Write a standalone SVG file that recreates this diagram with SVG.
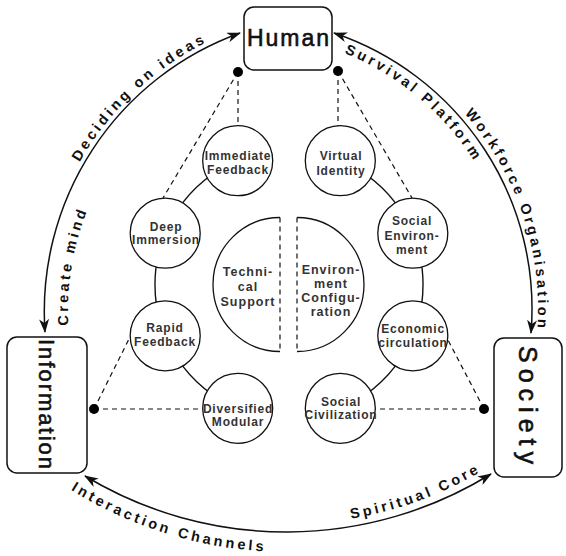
<svg xmlns="http://www.w3.org/2000/svg" width="566" height="556" viewBox="0 0 566 556">
<style>
.box{fill:#fff;stroke:#111;stroke-width:1.5}
.big{font-family:"Liberation Sans",Arial,sans-serif;fill:#111;stroke:#111;stroke-width:0.6;text-anchor:middle}
.ring{fill:none;stroke:#111;stroke-width:1.4}
.node{fill:#fff;stroke:#111;stroke-width:1.3}
.lbl{font-family:"Liberation Sans",Arial,sans-serif;font-weight:bold;font-size:12px;letter-spacing:0.8px;fill:#333;text-anchor:middle}
.clbl{font-family:"Liberation Sans",Arial,sans-serif;font-weight:bold;font-size:12.5px;letter-spacing:1px;fill:#333;text-anchor:middle}
.dash{fill:none;stroke:#111;stroke-width:1.2;stroke-dasharray:5 4}
.arc{fill:none;stroke:#111;stroke-width:1.5;marker-start:url(#ah);marker-end:url(#ah)}
.al{font-family:"Liberation Sans",Arial,sans-serif;font-weight:bold;font-size:14.5px;letter-spacing:3.2px;fill:#111}
.dot{fill:#000}
</style>
<defs>
<marker id="ah" viewBox="0 0 14 10" refX="13" refY="5" markerWidth="14" markerHeight="10" markerUnits="userSpaceOnUse" orient="auto-start-reverse">
<path d="M0,0 L14,5 L0,10 L4,5 z" fill="#111"/>
</marker>
<path id="tp-deciding" d="M40,311 A300,300 0 0,1 358.8,11.6"/>
<path id="tp-create" d="M104.4,447 A272,272 0 0,1 161.6,105.7"/>
<path id="tp-survival" d="M265.1,34 A276,276 0 0,1 507.6,237.6"/>
<path id="tp-workforce" d="M332.8,26.5 A297,297 0 0,1 484.3,479.4"/>
<path id="tp-interaction" d="M-1.9,431.9 A410,410 0 0,0 359.2,545.8"/>
<path id="tp-spiritual" d="M288,524 A382,382 0 0,0 533.5,434.6"/>
</defs>
<rect width="566" height="556" fill="#fff"/>

<g id="connectors">
<path class="arc" d="M45,332 A296,296 0 0,1 240,33"/>
<path class="arc" d="M334,33 A291,291 0 0,1 531,333"/>
<path class="arc" d="M85,476 A390,390 0 0,0 491,474"/>
<path class="ring" d="M237.7,160.7 A134,134 0 0,0 237.7,408.3"/>
<path class="ring" d="M340.3,160.7 A134,134 0 0,1 340.3,408.3"/>
<path class="dash" d="M238,72 V126 M238,72 L163,198 M338,71 V126 M338,71 L412,198 M94,409 H203 M94,409 L130,337 M484,409 H375 M484,409 L448,340"/>
<circle class="dot" cx="238" cy="72" r="5"/>
<circle class="dot" cx="338" cy="71" r="5"/>
<circle class="dot" cx="94" cy="409" r="5"/>
<circle class="dot" cx="484" cy="409" r="5"/>
<text class="al"><textPath href="#tp-deciding" startOffset="50%" text-anchor="middle">Deciding on ideas</textPath></text>
<text class="al"><textPath href="#tp-create" startOffset="50%" text-anchor="middle">Create mind</textPath></text>
<text class="al"><textPath href="#tp-survival" startOffset="50%" text-anchor="middle">Survival Platform</textPath></text>
<text class="al"><textPath href="#tp-workforce" startOffset="50%" text-anchor="middle">Workforce Organisation</textPath></text>
<text class="al"><textPath href="#tp-interaction" startOffset="50%" text-anchor="middle">Interaction Channels</textPath></text>
<text class="al"><textPath href="#tp-spiritual" startOffset="50%" text-anchor="middle">Spiritual Core</textPath></text>
</g>

<g id="human">
<rect class="box" x="244" y="7" width="88" height="63" rx="10"/>
<text class="big" x="289" y="46" font-size="23" letter-spacing="2">Human</text>
</g>
<g id="information">
<rect class="box" x="7" y="337" width="80" height="136" rx="10"/>
<text class="big" transform="translate(39,405) rotate(90)" font-size="22" letter-spacing="2">Information</text>
</g>
<g id="society">
<rect class="box" x="494" y="338" width="68" height="139" rx="10"/>
<text class="big" transform="translate(519,408) rotate(90)" font-size="25" letter-spacing="6">Society</text>
</g>

<g id="technical-support">
<path class="node" d="M280,217.5 A67,67 0 0,0 280,351.5"/>
<path class="dash" d="M280,217.5 V351.5"/>
<text class="clbl" x="248" y="276">Techni-</text>
<text class="clbl" x="248" y="291">cal</text>
<text class="clbl" x="248" y="306">Support</text>
</g>
<g id="environment-configuration">
<path class="node" d="M297,217.5 A67,67 0 0,1 297,351.5"/>
<path class="dash" d="M297,217.5 V351.5"/>
<text class="clbl" x="331" y="274">Environ-</text>
<text class="clbl" x="331" y="288">ment</text>
<text class="clbl" x="331" y="302">Configu-</text>
<text class="clbl" x="331" y="316">ration</text>
</g>

<g id="immediate-feedback">
<circle class="node" cx="237.7" cy="160.7" r="35"/>
<text class="lbl" x="238" y="160">Immediate</text>
<text class="lbl" x="238" y="174">Feedback</text>
</g>
<g id="deep-immersion">
<circle class="node" cx="165.2" cy="233.2" r="35"/>
<text class="lbl" x="166" y="231">Deep</text>
<text class="lbl" x="166" y="244">Immersion</text>
</g>
<g id="rapid-feedback">
<circle class="node" cx="165.2" cy="335.8" r="35"/>
<text class="lbl" x="165" y="332">Rapid</text>
<text class="lbl" x="165" y="346">Feedback</text>
</g>
<g id="diversified-modular">
<circle class="node" cx="237.7" cy="408.3" r="35"/>
<text class="lbl" x="238" y="412.5">Diversified</text>
<text class="lbl" x="238" y="425.5">Modular</text>
</g>
<g id="virtual-identity">
<circle class="node" cx="340.3" cy="160.7" r="35"/>
<text class="lbl" x="341" y="160">Virtual</text>
<text class="lbl" x="341" y="175">Identity</text>
</g>
<g id="social-environment">
<circle class="node" cx="412.8" cy="233.2" r="35"/>
<text class="lbl" x="412" y="225">Social</text>
<text class="lbl" x="412" y="240">Environ-</text>
<text class="lbl" x="412" y="254">ment</text>
</g>
<g id="economic-circulation">
<circle class="node" cx="412.8" cy="335.8" r="35"/>
<text class="lbl" x="413" y="333">Economic</text>
<text class="lbl" x="413" y="346.5">circulation</text>
</g>
<g id="social-civilization">
<circle class="node" cx="340.3" cy="408.3" r="35"/>
<text class="lbl" x="341" y="406">Social</text>
<text class="lbl" x="341" y="419">Civilization</text>
</g>
</svg>
